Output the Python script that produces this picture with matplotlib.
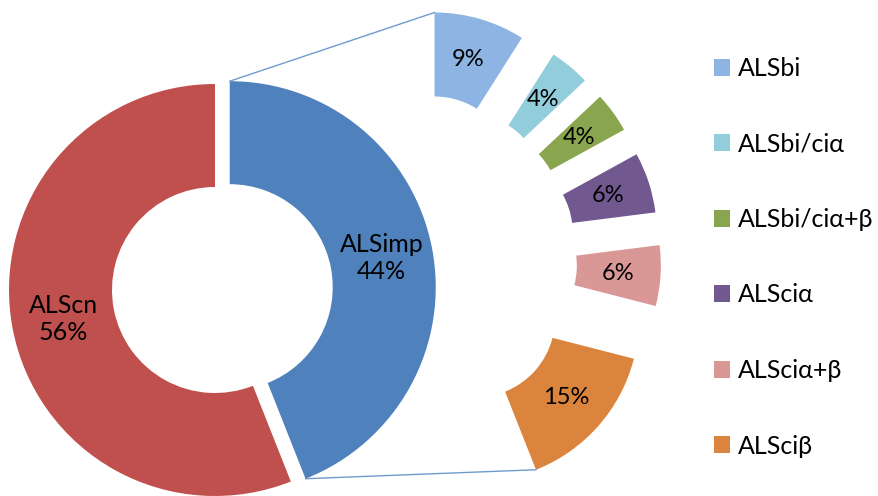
import numpy as np
import matplotlib
matplotlib.use("Agg")
import matplotlib.pyplot as plt

# 主环数据
main_names = ["ALSimp", "ALScn"]
main_values = [44, 56]
main_colors = ["#4F81BD", "#C0504D"]

# 外环（ALSimp 细分）
sub_names = ["ALSbi", "ALSbi/ciα", "ALSbi/ciα+β", "ALSciα", "ALSciα+β", "ALSciβ"]
sub_values = [9, 4, 4, 6, 6, 15]
sub_colors = ["#8DB4E2", "#92CDDC", "#89A54E", "#71588F", "#D99795", "#DB843D"]

plt.rcParams["font.family"] = ["Lato", "DejaVu Sans"]

fig = plt.figure(figsize=(8.79, 4.96), dpi=100)
ax = fig.add_axes([0, 0, 1, 1])

# 主环
R_main = 206
main_wedges, _ = ax.pie(main_values, colors=main_colors, startangle=90, counterclock=False,
                        radius=R_main, center=(215, 206), explode=[15, 0],
                        wedgeprops=dict(width=103, linewidth=0))

for w, name, v in zip(main_wedges, main_names, main_values):
    mid = np.deg2rad((w.theta1 + w.theta2) / 2)
    cx, cy = w.center
    ax.text(cx + 0.75 * w.r * np.cos(mid), cy + 0.75 * w.r * np.sin(mid), f"{name}\n{v}%",
            ha="center", va="center", fontsize=18, color="black", linespacing=1.2)

# 外环，分离显示
R_sub = 163
sub_wedges, _, sub_texts = ax.pie([v / 100 for v in sub_values], colors=sub_colors, startangle=90,
                                  counterclock=False, normalize=False, radius=R_sub,
                                  center=(410, 236), explode=[88] * len(sub_values),
                                  autopct="%.0f%%", pctdistance=0.74,
                                  wedgeprops=dict(width=84, linewidth=0),
                                  textprops=dict(fontsize=17, color="black"))

# 连接线
def corner(w, ang):
    a = np.deg2rad(ang)
    return w.center[0] + w.r * np.cos(a), w.center[1] + w.r * np.sin(a)

blue = main_wedges[0]
p1 = corner(blue, blue.theta2)
p2 = corner(sub_wedges[0], sub_wedges[0].theta2)
p3 = corner(blue, blue.theta1)
p4 = corner(sub_wedges[-1], sub_wedges[-1].theta1)
ax.plot([p1[0], p2[0]], [p1[1], p2[1]], color="#6F9AD0", lw=1)
ax.plot([p3[0], p4[0]], [p3[1], p4[1]], color="#6F9AD0", lw=1)

leg = ax.legend(sub_wedges, sub_names, loc="upper left", bbox_to_anchor=(714 / 879, 1 - 57 / 496),
                frameon=False, fontsize=18, handlelength=0.65, handleheight=0.65,
                handletextpad=0.3, labelspacing=2.1, borderaxespad=0, borderpad=0)

ax.set_xlim(0, 879)
ax.set_ylim(0, 496)
ax.set_aspect("equal")
ax.axis("off")

fig.savefig("out.png", dpi=100)
